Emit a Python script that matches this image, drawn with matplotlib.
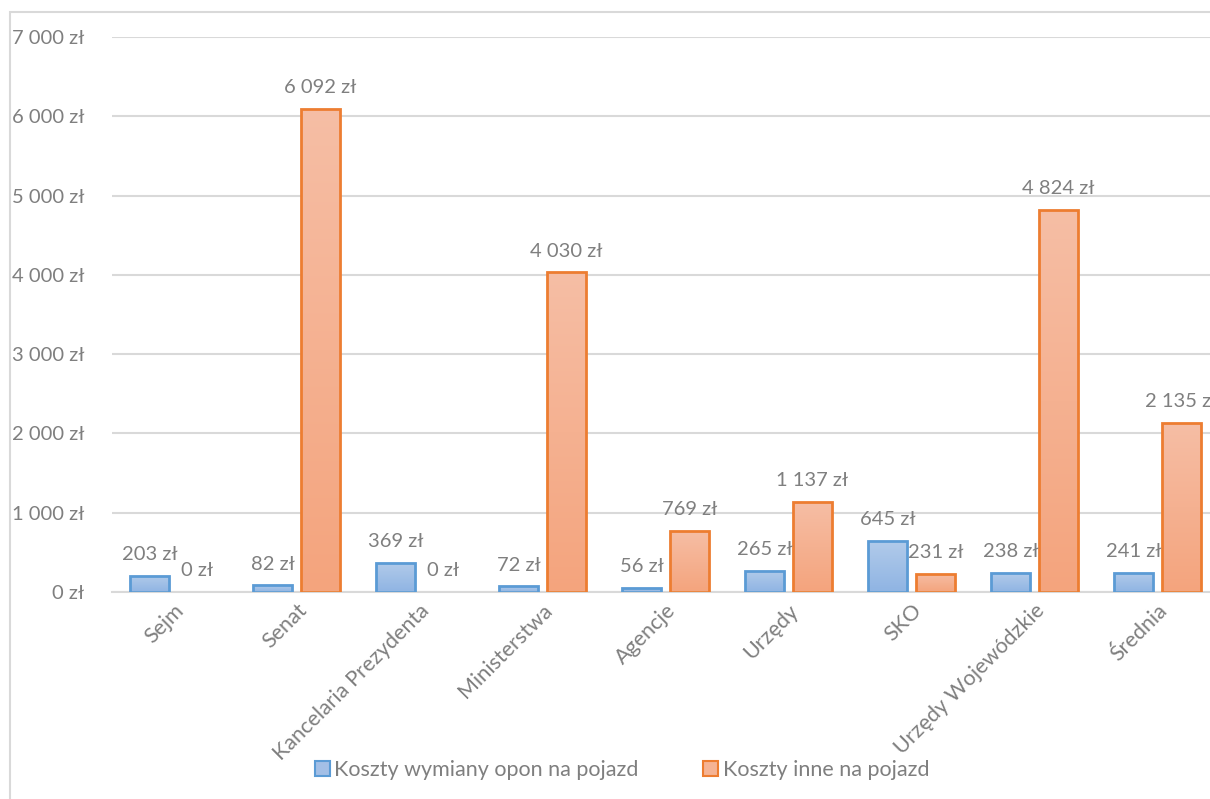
import numpy as np
import matplotlib.pyplot as plt
from matplotlib.patches import Rectangle
from matplotlib.colors import LinearSegmentedColormap
from matplotlib.transforms import ScaledTranslation

plt.rcParams['font.family'] = ['Lato', 'DejaVu Sans']

categories = ['Sejm', 'Senat', 'Kancelaria Prezydenta', 'Ministerstwa', 'Agencje',
              'Urzędy', 'SKO', 'Urzędy Wojewódzkie', 'Średnia']
opony = [203, 82, 369, 72, 56, 265, 645, 238, 241]
inne = [0, 6092, 0, 4030, 769, 1137, 231, 4824, 2135]
series_names = ['Koszty wymiany opon na pojazd', 'Koszty inne na pojazd']

TEXT = '#7f7f7f'
GRID = '#d9d9d9'
BLUE_EDGE = '#5b9bd5'
ORANGE_EDGE = '#ed7d31'
blue_cmap = LinearSegmentedColormap.from_list('b', ['#8fb4e3', '#b2cbea'])
orange_cmap = LinearSegmentedColormap.from_list('o', ['#f4a47d', '#f6bea5'])


def fmt(v):
    return f'{v:,.0f}'.replace(',', ' ') + ' zł'


fig = plt.figure(figsize=(12.1, 7.99), dpi=100)
# chart border
fig.patches.append(Rectangle((10 / 1210, -0.1), 1.2, (799 - 12) / 799 + 0.1,
                             transform=fig.transFigure, fill=False,
                             edgecolor=GRID, linewidth=1.5))
ax = fig.add_axes([112 / 1210, 207 / 799, 1107 / 1210, 555 / 799])

x = np.arange(len(categories))
w = 0.31
off = 0.195
grad = np.linspace(0, 1, 256).reshape(-1, 1)

for vals, sign, cmap, edge in [(opony, -1, blue_cmap, BLUE_EDGE),
                               (inne, 1, orange_cmap, ORANGE_EDGE)]:
    for xi, v in zip(x, vals):
        left = xi + sign * off - w / 2
        if v > 0:
            im = ax.imshow(grad, cmap=cmap, aspect='auto', origin='lower',
                           extent=(left, left + w, 0, v), zorder=2)
            r = Rectangle((left, 0), w, v, facecolor='none', edgecolor=edge,
                          linewidth=2, zorder=3)
            ax.add_patch(r)
            im.set_clip_path(r)
        ax.text(xi + sign * off, v + 160, fmt(v), ha='center', va='bottom',
                color=TEXT, fontsize=14.5, zorder=4)

ax.set_xlim(-0.5, len(categories) - 0.5)
ax.set_ylim(0, 7000)
ax.set_yticks(np.arange(0, 7001, 1000))
ax.set_yticklabels([fmt(v) for v in np.arange(0, 7001, 1000)])
ax.set_xticks(x)
ax.set_xticklabels(categories, rotation=45, ha='right', rotation_mode='anchor')
for lab in ax.get_xticklabels():
    lab.set_transform(lab.get_transform() + ScaledTranslation(6 / 100, 0, fig.dpi_scale_trans))
ax.tick_params(axis='y', length=0, pad=20, labelcolor=TEXT, labelsize=14.5)
ax.tick_params(axis='x', length=0, pad=6, labelcolor=TEXT, labelsize=15.5)
ax.grid(axis='y', color=GRID, linewidth=1.5, zorder=0)
ax.set_axisbelow(True)
for s in ['top', 'right', 'left']:
    ax.spines[s].set_visible(False)
ax.spines['bottom'].set_color(GRID)
ax.spines['bottom'].set_linewidth(1.5)

handles = [Rectangle((0, 0), 1, 1, facecolor='#a3bfe6', edgecolor=BLUE_EDGE, linewidth=1.5),
           Rectangle((0, 0), 1, 1, facecolor='#f5b394', edgecolor=ORANGE_EDGE, linewidth=1.5)]
fig.legend(handles, series_names, loc='center', bbox_to_anchor=(622 / 1210, 1 - 770 / 799),
           ncol=2, frameon=False, fontsize=15.5, labelcolor=TEXT, handlelength=0.7,
           handleheight=0.7, handletextpad=0.2, columnspacing=3.0)

fig.savefig('out.png', dpi=100)
